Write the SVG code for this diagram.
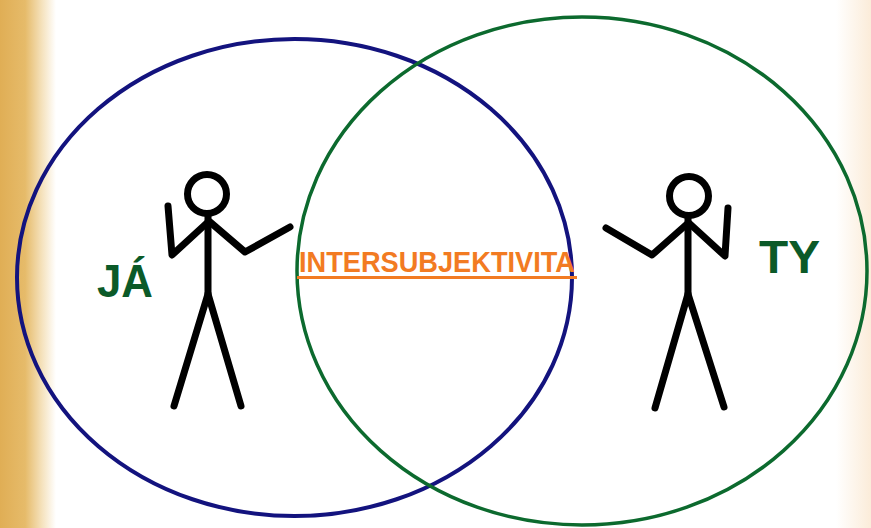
<svg xmlns="http://www.w3.org/2000/svg" width="871" height="528" viewBox="0 0 871 528">
  <defs>
    <linearGradient id="bgL" x1="0" y1="0" x2="1" y2="0">
      <stop offset="0" stop-color="#e0ae55"/>
      <stop offset="0.45" stop-color="#e6bb6a"/>
      <stop offset="0.75" stop-color="#f5e2bd"/>
      <stop offset="1" stop-color="#ffffff"/>
    </linearGradient>
    <linearGradient id="bgR" x1="0" y1="0" x2="1" y2="0">
      <stop offset="0" stop-color="#ffffff"/>
      <stop offset="1" stop-color="#fbecd9"/>
    </linearGradient>
  </defs>
  <style>
    .fig { fill: none; stroke: #000; stroke-width: 7; stroke-linecap: round; stroke-linejoin: round; }
    .lbl { font-family: "Liberation Sans", Arial, sans-serif; font-weight: bold; fill: #0b5a28; }
    .mid { font-family: "Liberation Sans", Arial, sans-serif; font-weight: bold; fill: #f27b22; }
  </style>
  <rect x="0" y="0" width="871" height="528" fill="#ffffff"/>
  <rect x="0" y="0" width="56" height="528" fill="url(#bgL)"/>
  <rect x="836" y="0" width="35" height="528" fill="url(#bgR)"/>

  <g id="ja">
    <ellipse cx="294.5" cy="277.5" rx="277.5" ry="238.5" fill="none" stroke="#13137e" stroke-width="4"/>
    <text class="lbl" x="97" y="297" font-size="46" textLength="56" lengthAdjust="spacingAndGlyphs">JÁ</text>
  </g>

  <g id="ty">
    <ellipse cx="582" cy="271" rx="285" ry="254" fill="none" stroke="#0c6a2e" stroke-width="3.5"/>
    <text class="lbl" x="759" y="273" font-size="47" textLength="61" lengthAdjust="spacingAndGlyphs">TY</text>
  </g>

  <g id="figure-ja">
    <circle class="fig" cx="207" cy="194" r="19.5"/>
    <path class="fig" d="M208 214 L208 297"/>
    <path class="fig" d="M208 294 L174 406 M208 294 L241 406"/>
    <path class="fig" d="M208 222 L172 255 L168 206"/>
    <path class="fig" d="M210 222 L245 252 L290 227"/>
  </g>

  <g id="figure-ty">
    <circle class="fig" cx="689" cy="196" r="19.5"/>
    <path class="fig" d="M688 216 L688 297"/>
    <path class="fig" d="M688 294 L655 408 M688 294 L724 407"/>
    <path class="fig" d="M687 224 L652 255 L606 228"/>
    <path class="fig" d="M690 224 L725 256 L728 208"/>
  </g>

  <g id="intersubjektivita">
    <text class="mid" x="299" y="272" font-size="29" textLength="276" lengthAdjust="spacingAndGlyphs">INTERSUBJEKTIVITA</text>
    <line x1="297" y1="277.5" x2="577" y2="277.5" stroke="#f27b22" stroke-width="3"/>
  </g>
</svg>
